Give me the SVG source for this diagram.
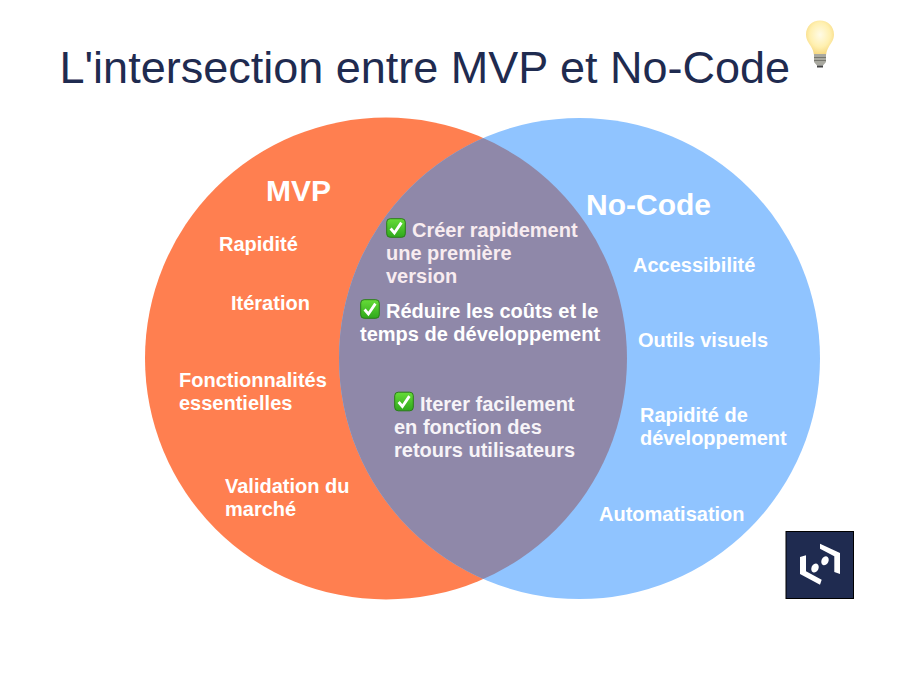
<svg xmlns="http://www.w3.org/2000/svg" width="907" height="681" viewBox="0 0 907 681">
<style>
text{font-family:"Liberation Sans",Arial,sans-serif}
.t{font-size:20px;font-weight:700;fill:#fff}
.h{font-size:30px;font-weight:700;fill:#fff}
.o{font-size:20px;font-weight:700;fill:#fff}
.p{fill:#f8ecf0}
.q{fill:#f7f4f8}
</style>
<defs>
<clipPath id="cl"><circle cx="386" cy="358.500" r="241"/></clipPath>
<radialGradient id="bulb" cx="0.5" cy="0.42" r="0.6"><stop offset="0" stop-color="#fffbe6"/><stop offset="0.6" stop-color="#fff0b0"/><stop offset="1" stop-color="#f6d77e"/></radialGradient>
<linearGradient id="gr" x1="0" y1="0" x2="0" y2="1"><stop offset="0" stop-color="#66dc38"/><stop offset="1" stop-color="#2fa81c"/></linearGradient>
<g id="check"><rect x="0.700" y="0.700" width="18.600" height="18.600" rx="3.500" fill="url(#gr)" stroke="#2a7d18" stroke-width="1"/><path d="M4.600 10.500 8.400 15 15.400 4.600" fill="none" stroke="#fff" stroke-width="2.800"/></g>
</defs>
<rect width="907" height="681" fill="#fff"/>
<g id="title"><text x="59.500" y="82.500" font-size="45" fill="#1f2b50">L'intersection entre MVP et No-Code</text></g>
<g id="bulb-icon">
<path d="M820 20.500c-8 0-14 6-14 14 0 5 2.500 8 5 12 1.500 2.500 2.500 5 2.800 8h12.400c.3-3 1.300-5.500 2.800-8 2.500-4 5-7 5-12 0-8-6-14-14-14z" fill="url(#bulb)"/>
<path d="M814 54h12v8l-3 3.500h-6l-3-3.500z" fill="#a9a9a0"/>
<path d="M814 57.500h12M814 60.500h12" stroke="#77776f" stroke-width="1"/>
<path d="M817 65.500h6v2h-6z" fill="#444"/>
</g>
<g id="mvp"><circle cx="386" cy="358.500" r="241" fill="#ff7f50"/></g>
<g id="nocode"><circle cx="579.500" cy="358.500" r="240.500" fill="#90c4ff"/></g>
<g id="overlap"><circle cx="579.500" cy="358.500" r="240.500" fill="#8f88a9" clip-path="url(#cl)"/></g>
<g id="mvp-labels">
<text class="h" x="266" y="201">MVP</text>
<text class="t" x="219" y="250.500">Rapidité</text>
<text class="t" x="231" y="310">Itération</text>
<text class="t" x="179" y="387">Fonctionnalités</text>
<text class="t" x="179" y="410">essentielles</text>
<text class="t" x="225" y="493">Validation du</text>
<text class="t" x="225" y="516">marché</text>
</g>
<g id="nocode-labels">
<text class="h" x="586" y="215">No-Code</text>
<text class="t" x="633" y="272">Accessibilité</text>
<text class="t" x="638" y="347">Outils visuels</text>
<text class="t" x="640" y="422">Rapidité de</text>
<text class="t" x="640" y="445">développement</text>
<text class="t" x="599" y="521">Automatisation</text>
</g>
<g id="overlap-1">
<use href="#check" x="386" y="218"/>
<text class="o p" x="412" y="237">Créer rapidement</text>
<text class="o p" x="386" y="260">une première</text>
<text class="o p" x="386" y="283">version</text>
</g>
<g id="overlap-2">
<use href="#check" x="360" y="299"/>
<text class="o" x="386" y="318">Réduire les coûts et le</text>
<text class="o" x="360" y="341">temps de développement</text>
</g>
<g id="overlap-3">
<use href="#check" x="394" y="391.500"/>
<text class="o q" x="420" y="410.500">Iterer facilement</text>
<text class="o q" x="394" y="433.500">en fonction des</text>
<text class="o q" x="394" y="456.500">retours utilisateurs</text>
</g>
<g id="logo">
<rect x="786" y="531.500" width="67.500" height="67" fill="#1f2b50" stroke="#000" stroke-width="1"/>
<path d="M820 543.700 840 553V574L834.300 572V556.300L820 548.700ZM800 557 806 555.300V571.300L821.700 579.700 820 584.700 800 574Z" fill="#fff"/>
<ellipse cx="825" cy="560.700" rx="3.500" ry="4.700" fill="#fff" transform="rotate(25 825 560.700)"/>
<ellipse cx="815" cy="568" rx="3.500" ry="4.700" fill="#fff" transform="rotate(25 815 568)"/>
</g>
</svg>
